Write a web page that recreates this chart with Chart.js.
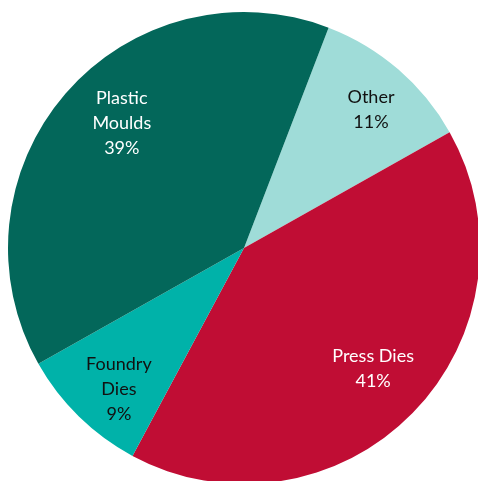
<!DOCTYPE html>
<html>
<head>
<meta charset="utf-8">
<script src="https://cdn.jsdelivr.net/npm/chart.js@4/dist/chart.umd.min.js"></script>
<style>
    html, body { margin: 0; padding: 0; background: #fff; overflow: hidden; }
    #chart-container { width: 484px; height: 488px; }
</style>
</head>
<body>
<div id="chart-container"><canvas id="pie-chart"></canvas></div>
<script>
// slice data, in drawing order (clockwise from the Other slice)
const labels = ['Other', 'Press Dies', 'Foundry Dies', 'Plastic Moulds'];
const labelLines = [['Other'], ['Press Dies'], ['Foundry', 'Dies'], ['Plastic', 'Moulds']];
const shares = [11, 41, 9, 39];
const colors = ['#9FDCD8', '#C00D34', '#00B2A9', '#03675A'];
const textColors = ['#111111', '#ffffff', '#111111', '#ffffff'];

// label placement: fraction of radius and angle nudge (deg) per slice
const labelRadius = [0.795, 0.748, 0.80, 0.74];
const labelNudge = [1.8, -1.4, -2.9, 4.8];

// draw text labels inside each slice
const sliceLabels = {
    id: 'sliceLabels',
    afterDatasetsDraw(chart) {
        const ctx = chart.ctx;
        const meta = chart.getDatasetMeta(0);
        ctx.save();
        ctx.font = '18px Lato, "Open Sans", sans-serif';
        ctx.textAlign = 'center';
        ctx.textBaseline = 'middle';
        meta.data.forEach((arc, i) => {
            const p = arc.getProps(['x', 'y', 'startAngle', 'endAngle', 'outerRadius']);
            const mid = (p.startAngle + p.endAngle) / 2 + labelNudge[i] * Math.PI / 180;
            const r = p.outerRadius * labelRadius[i];
            const cx = p.x + Math.cos(mid) * r;
            const cy = p.y + Math.sin(mid) * r;
            const lines = labelLines[i].concat([shares[i] + '%']);
            const lh = 25;
            ctx.fillStyle = textColors[i];
            lines.forEach((t, k) => {
                ctx.fillText(t, cx, cy + (k - (lines.length - 1) / 2) * lh);
            });
        });
        ctx.restore();
    }
};

new Chart(document.getElementById('pie-chart').getContext('2d'), {
    type: 'pie',
    data: {
        labels: labels,
        datasets: [{
            data: shares,
            backgroundColor: colors,
            borderWidth: 0
        }]
    },
    options: {
        responsive: true,
        maintainAspectRatio: false,
        animation: false,
        rotation: 21,
        layout: { padding: { left: 8, top: 12, right: 4, bottom: 4 } },
        plugins: {
            legend: { display: false },
            tooltip: { enabled: false }
        }
    },
    plugins: [sliceLabels]
});
</script>
</body>
</html>
